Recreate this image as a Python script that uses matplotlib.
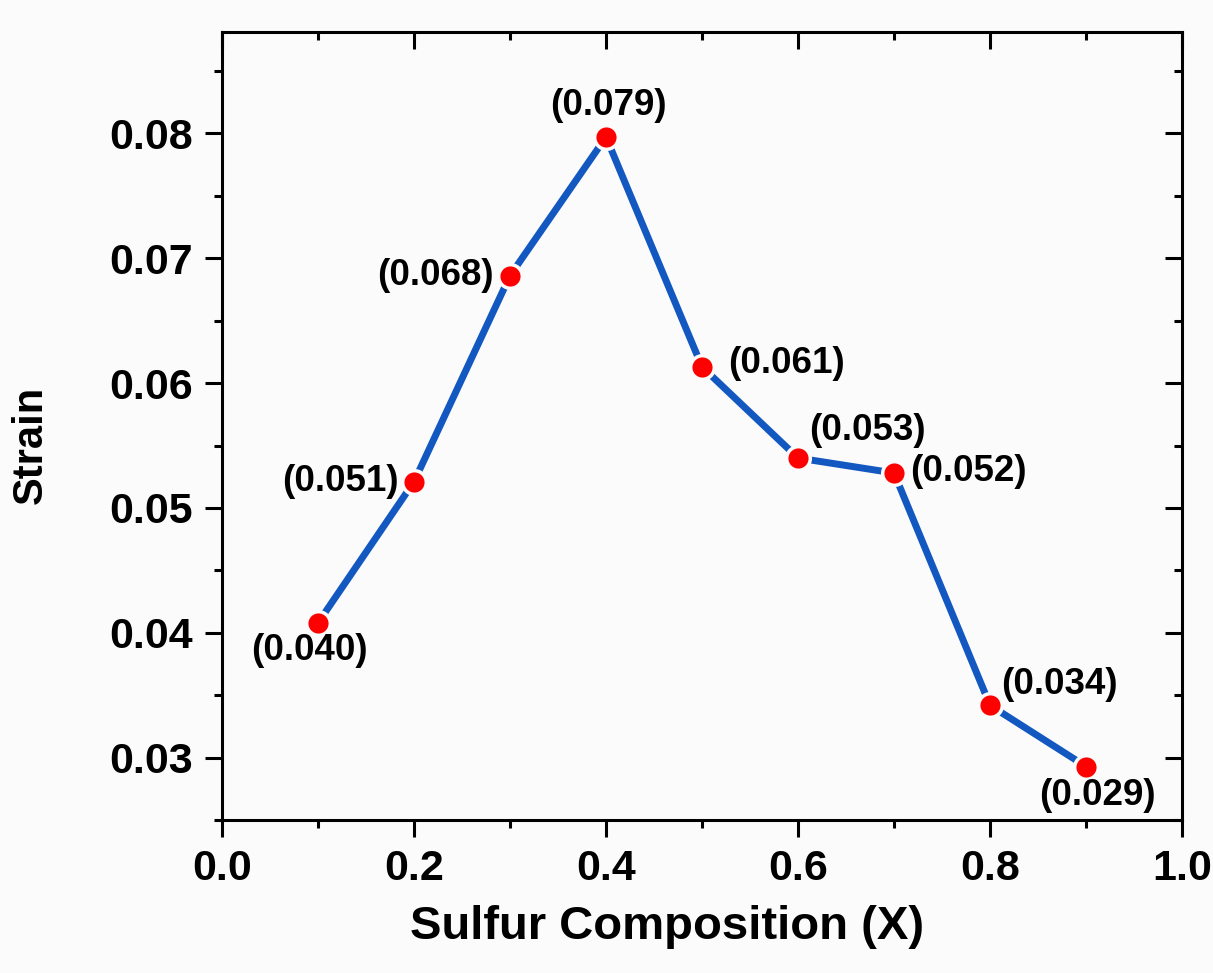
import matplotlib
matplotlib.use("Agg")
import matplotlib.pyplot as plt
from matplotlib.ticker import MultipleLocator

plt.rcParams['font.family'] = ['Liberation Sans', 'DejaVu Sans']
plt.rcParams['font.weight'] = 'bold'

# data
sulfur = [0.1, 0.2, 0.3, 0.4, 0.5, 0.6, 0.7, 0.8, 0.9]
strain = [0.0408, 0.0521, 0.0686, 0.0797, 0.0613, 0.0540, 0.0528, 0.0342, 0.0293]
labels = ["(0.040)", "(0.051)", "(0.068)", "(0.079)", "(0.061)",
          "(0.053)", "(0.052)", "(0.034)", "(0.029)"]

# label placement (pixel offsets from the point, alignment)
offsets = [(-9, -28, 'center', 'center'),
           (-15, 0, 'right', 'center'),
           (-16, 0, 'right', 'center'),
           (2, 32, 'center', 'center'),
           (26, 3, 'left', 'center'),
           (11, 28, 'left', 'center'),
           (16, 2, 'left', 'center'),
           (11, 21, 'left', 'center'),
           (11, -29, 'center', 'center')]

fig = plt.figure(figsize=(12.13, 9.73), dpi=100, facecolor='#fbfbfb')
ax = fig.add_axes([0.183, 0.157, 0.7915, 0.810])
ax.set_facecolor('#fbfbfb')

ax.plot(sulfur, strain, color='#1258c0', linewidth=5, marker='o',
        markersize=17, markerfacecolor='#ff0000', markeredgecolor='#fbfbfb',
        markeredgewidth=2.5, zorder=3)

for x, y, lab, (dx, dy, ha, va) in zip(sulfur, strain, labels, offsets):
    ax.annotate(lab, (x, y), xytext=(dx, dy), textcoords='offset pixels',
                ha=ha, va=va, fontsize=26.5, fontweight='bold')

ax.set_xlim(0.0, 1.0)
ax.set_ylim(0.025, 0.0881)
ax.xaxis.set_minor_locator(MultipleLocator(0.1))
ax.yaxis.set_minor_locator(MultipleLocator(0.005))
ax.set_xticks([0.0, 0.2, 0.4, 0.6, 0.8, 1.0])
ax.set_xticklabels(["0.0", "0.2", "0.4", "0.6", "0.8", "1.0"])
ax.set_yticks([0.03, 0.04, 0.05, 0.06, 0.07, 0.08])
ax.set_yticklabels(["0.03", "0.04", "0.05", "0.06", "0.07", "0.08"])

for s in ax.spines.values():
    s.set_linewidth(2.2)

ax.tick_params(axis='both', which='major', length=12, width=2.2,
               labelsize=31, pad=9, direction='out')
ax.tick_params(axis='both', which='minor', length=6, width=2.2, direction='out')
# secondary ticks on top and right, pointing inward
ax.tick_params(which='both', top=True, right=True)
for t in ax.xaxis.get_major_ticks() + ax.xaxis.get_minor_ticks():
    t.tick2line.set_marker(3)
for t in ax.yaxis.get_major_ticks() + ax.yaxis.get_minor_ticks():
    t.tick2line.set_marker(0)
for lab in ax.get_xticklabels() + ax.get_yticklabels():
    lab.set_fontweight('bold')

ax.set_xlabel("Sulfur Composition (X)", fontsize=34, fontweight='bold')
ax.set_ylabel("Strain", fontsize=30, fontweight='bold')
ax.xaxis.set_label_coords(0.4635, -0.108)
ax.yaxis.set_label_coords(-0.178, 0.476)

fig.savefig("out.png", dpi=100, facecolor=fig.get_facecolor())
